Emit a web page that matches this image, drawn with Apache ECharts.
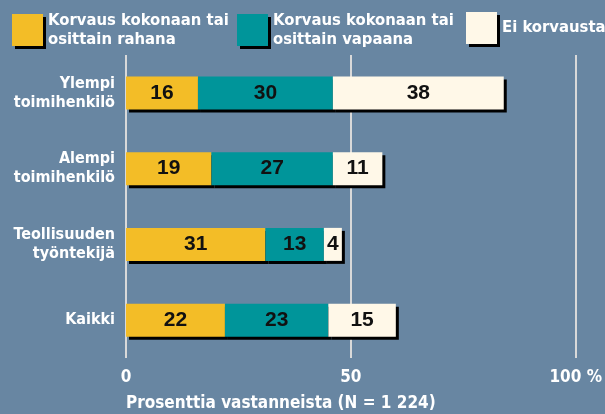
<!DOCTYPE html>
<html>
<head>
<meta charset="utf-8">
<script src="https://cdn.jsdelivr.net/npm/echarts@6/dist/echarts.min.js"></script>
<style>
  html, body { margin: 0; padding: 0; background: #6886a2; }
  #chart { width: 605px; height: 414px; }
</style>
</head>
<body>
<div id="chart"></div>
<script>
  const categories = ['Ylempi\ntoimihenkilö', 'Alempi\ntoimihenkilö', 'Teollisuuden\ntyöntekijä', 'Kaikki']
  const seriesNames = ['Korvaus kokonaan tai\nosittain rahana', 'Korvaus kokonaan tai\nosittain vapaana', 'Ei korvausta']
  const rahana = [16, 19, 31, 22]
  const vapaana = [30, 27, 13, 23]
  const eiKorvausta = [38, 11, 4, 15]
  const xTicks = [0, 50, 100]

  const narrow = '"Liberation Sans Narrow", "DejaVu Sans Condensed", sans-serif'
  const colors = ['#f3bd27', '#00959a', '#fff8e8']
  const legendLeft = [7, 232, 461]
  const legendTop = [6, 6, 7]
  const shadow = {
    shadowColor: '#000',
    shadowBlur: 0,
    shadowOffsetX: 3,
    shadowOffsetY: 3,
  }

  const myChart = echarts.init(document.getElementById('chart'))

  const makeSeries = (name, data, i) => ({
    name: name,
    type: 'bar',
    stack: 'total',
    barWidth: 33,
    data: data,
    itemStyle: Object.assign({ color: colors[i] }, shadow),
    label: {
      show: true,
      position: 'inside',
      color: '#111',
      fontFamily: '"Liberation Sans", Arial, sans-serif',
      fontWeight: 'bold',
      fontSize: 21,
    },
    z: 2,
  })

  // one legend per item so each sits where the original puts it
  const makeLegend = (name, i) => ({
    data: [name],
    left: legendLeft[i],
    top: legendTop[i],
    icon: 'rect',
    itemWidth: 31,
    itemHeight: 32,
    selectedMode: false,
    itemStyle: shadow,
    textStyle: {
      color: '#fff',
      fontFamily: narrow,
      fontWeight: 'bold',
      fontSize: 16.5,
      lineHeight: 19,
    },
  })

  const option = {
    backgroundColor: '#6886a2',
    animation: false,
    title: {
      text: 'Prosenttia vastanneista (N = 1 224)',
      left: 121,
      top: 390,
      textStyle: {
        color: '#fff',
        fontFamily: narrow,
        fontWeight: 'bold',
        fontSize: 17,
      },
    },
    legend: seriesNames.map(makeLegend),
    grid: {
      left: 126,
      right: 29,
      top: 55,
      height: 303,
      containLabel: false,
    },
    xAxis: {
      type: 'value',
      min: xTicks[0],
      max: xTicks[xTicks.length - 1],
      interval: 50,
      axisLine: { show: false },
      axisTick: { show: false },
      splitLine: {
        show: true,
        lineStyle: { color: '#d9d9d9', width: 2 },
      },
      axisLabel: {
        margin: 11,
        color: '#fff',
        fontFamily: narrow,
        fontWeight: 'bold',
        fontSize: 17,
        formatter: v => (v === 100 ? '100 %' : String(v)),
      },
    },
    yAxis: {
      type: 'category',
      inverse: true,
      data: categories,
      axisLine: { show: false },
      axisTick: { show: false },
      axisLabel: {
        margin: 11,
        color: '#fff',
        fontFamily: narrow,
        fontWeight: 'bold',
        fontSize: 16,
        lineHeight: 19,
        align: 'right',
      },
    },
    series: [
      makeSeries(seriesNames[0], rahana, 0),
      makeSeries(seriesNames[1], vapaana, 1),
      makeSeries(seriesNames[2], eiKorvausta, 2),
    ],
  }

  myChart.setOption(option)
</script>
</body>
</html>
